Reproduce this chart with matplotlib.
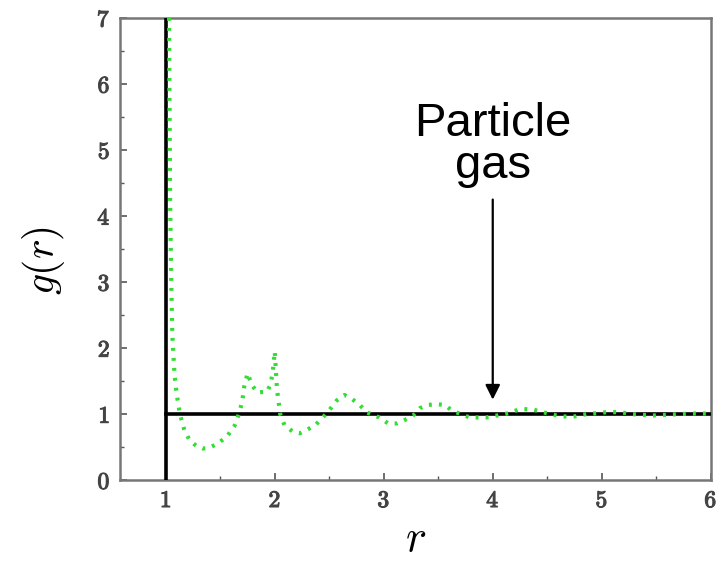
import numpy as np
import matplotlib.pyplot as plt
import matplotlib.patheffects as pe

# green simulated g(r)
r_sim = [1.03, 1.035, 1.04, 1.05, 1.06, 1.08, 1.10, 1.13, 1.17, 1.22, 1.28, 1.34, 1.40,
         1.48, 1.56, 1.63, 1.67, 1.70, 1.72, 1.75, 1.79, 1.84, 1.93, 1.96, 1.98, 2.00,
         2.02, 2.05, 2.09, 2.17, 2.23, 2.29, 2.37, 2.44, 2.50, 2.57, 2.64, 2.70, 2.78,
         2.84, 2.96, 3.04, 3.12, 3.19, 3.27, 3.33, 3.40, 3.49, 3.56, 3.63, 3.79, 3.94,
         4.04, 4.16, 4.25, 4.37, 4.46, 4.61, 4.73, 4.86, 5.05, 5.17, 5.28, 5.47, 5.60,
         5.81, 6.00]
g_sim = [7.0, 5.5, 4.2, 3.0, 2.2, 1.6, 1.3, 1.0, 0.76, 0.6, 0.52, 0.48, 0.49,
         0.56, 0.66, 0.82, 1.0, 1.18, 1.42, 1.62, 1.44, 1.33, 1.34, 1.45, 1.62, 1.95,
         1.38, 1.0, 0.83, 0.73, 0.71, 0.76, 0.83, 0.95, 1.06, 1.21, 1.29, 1.24, 1.14,
         1.03, 0.95, 0.86, 0.86, 0.91, 0.98, 1.09, 1.14, 1.15, 1.14, 1.05, 0.95, 0.95,
         0.98, 1.02, 1.08, 1.07, 1.03, 0.97, 0.96, 1.0, 1.03, 1.03, 1.0, 0.98, 0.99,
         1.01, 1.01]

# black ideal step: hard core at r = 1, then g = 1
r_core = 1.0
r_max = 6.0
g_ideal = 1.0

plt.rcParams['mathtext.fontset'] = 'cm'
plt.rcParams['font.family'] = 'cmr10'
plt.rcParams['axes.formatter.use_mathtext'] = True

fig = plt.figure(figsize=(7.23, 5.61), dpi=100)
ax = fig.add_axes([0.166, 0.144, 0.817, 0.824])

ax.plot([r_core, r_core], [0, 7], color='black', lw=2.6, zorder=3)
ax.plot([r_core, r_max], [g_ideal, g_ideal], color='black', lw=2.6, zorder=3)
ax.plot(r_sim, g_sim, color='#33dd33', lw=3.0, linestyle=(0, (0.7, 1.7)), zorder=4)

ax.set_xlim(0.58, 6)
ax.set_ylim(0, 7)
ax.set_xticks([1, 2, 3, 4, 5, 6])
ax.set_yticks(range(8))
ax.set_xticks(np.arange(1.5, 6, 1), minor=True)
ax.set_yticks(np.arange(0.5, 7, 1), minor=True)
ax.tick_params(which='major', direction='in', length=5, width=1.2, color='#555',
               labelsize=17, labelcolor='#444', pad=7)
ax.tick_params(which='minor', direction='in', length=3, width=1.0, color='#555')
for lab in ax.get_xticklabels() + ax.get_yticklabels():
    lab.set_path_effects([pe.withStroke(linewidth=0.8, foreground='#444')])
for s in ax.spines.values():
    s.set_color('#777')
    s.set_linewidth(1.8)

ax.set_xlabel('$r$', fontsize=32, labelpad=6)
ax.set_ylabel('$g(r)$', fontsize=30)
ax.yaxis.set_label_coords(-0.09, 0.475)

ax.text(4.0, 4.42, 'Particle\ngas', ha='center', va='bottom', fontsize=34,
        family='Liberation Sans', linespacing=0.95)
ax.annotate('', xy=(4.0, 1.22), xytext=(4.0, 4.25),
            arrowprops=dict(arrowstyle='-|>', color='black', lw=1.6,
                            mutation_scale=22, shrinkA=0, shrinkB=0))

fig.savefig('out.png', dpi=100)
